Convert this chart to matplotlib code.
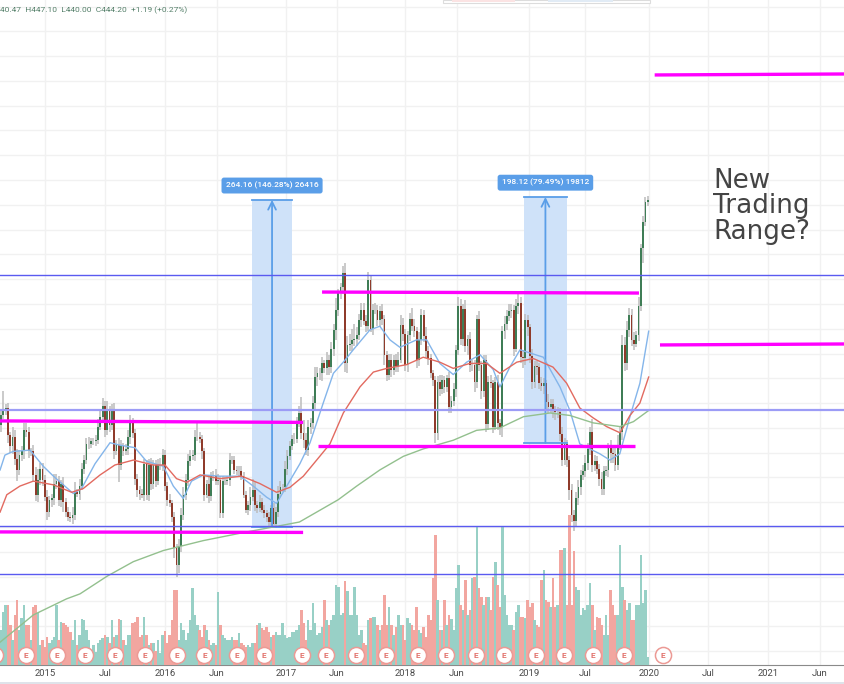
import numpy as np
import matplotlib
matplotlib.use('Agg')
import matplotlib.pyplot as plt
from matplotlib.patches import Rectangle

# weekly closes
close = [
    270,274,276,254,245,253,235,226,238,241,
    258,257,241,241,222,206,218,227,218,204,
    192,202,203,215,217,202,215,200,192,188,
    187,190,208,207,213,227,234,247,247,249,
    249,250,261,269,278,258,274,262,274,241,
    246,230,245,241,243,253,264,256,219,210,
    207,206,231,206,230,215,230,217,230,230,
    238,213,202,199,188,163,149,165,190,206,
    218,233,237,238,253,253,251,241,206,215,
    205,221,221,217,218,191,217,217,218,234,
    234,226,225,225,221,206,194,198,204,210,
    198,195,200,194,191,188,184,195,182,192,
    207,212,212,227,237,245,251,251,264,272,
    256,250,242,261,264,280,301,304,304,312,
    308,315,309,324,339,355,369,374,385,312,
    327,328,331,332,335,347,355,346,342,379,
    340,355,355,347,354,348,319,303,315,307,
    315,310,315,343,336,311,335,348,342,338,
    315,331,351,334,322,316,304,299,256,297,
    291,299,293,300,277,282,291,323,358,332,
    356,326,332,311,311,297,348,311,290,315,
    263,297,296,261,297,264,261,338,344,350,
    354,355,324,358,361,317,316,347,341,318,
    297,310,309,296,294,296,281,277,279,274,
    273,273,255,234,247,234,210,190,185,203,
    212,222,225,232,243,257,230,233,227,219,
    211,225,226,245,240,239,230,246,257,327,
    312,339,351,331,328,335,358,405,426,442,
    444]
first_open = 262

wick_up = [
    4,16,3,4,3,8,5,8,4,4,
    6,6,4,3,5,6,9,5,5,4,
    6,3,4,8,6,4,3,5,3,4,
    4,6,8,3,6,5,4,5,6,3,
    3,4,6,5,6,4,8,4,5,6,
    4,6,5,3,4,5,6,4,3,4,
    3,4,4,3,5,6,4,4,5,6,
    5,4,3,5,3,4,3,5,5,6,
    5,6,5,4,5,12,4,3,3,3,
    5,3,4,6,5,3,4,3,3,6,
    3,3,3,4,4,3,3,3,8,9,
    6,3,6,3,4,3,4,3,4,4,
    6,5,3,6,5,4,3,5,5,6,
    13,10,6,5,4,6,8,5,4,5,
    3,6,4,5,5,10,3,3,6,8,
    7,8,9,12,6,5,6,6,5,7,
    4,5,6,4,4,6,3,3,5,5,
    4,5,6,8,6,4,3,5,9,6,
    3,6,5,4,7,4,4,3,3,5,
    6,4,3,3,5,4,5,4,8,6,
    4,7,3,5,4,4,3,6,3,4,
    4,5,6,3,4,6,3,4,6,5,
    6,5,4,6,7,5,6,5,4,3,
    6,4,4,3,5,4,3,6,4,4,
    4,4,3,6,5,3,3,5,4,5,
    6,4,5,6,5,4,10,5,4,4,
    5,4,3,3,5,6,7,8,4,8,
    6,7,6,5,6,3,8,3,5,4,
    3]

wick_dn = [
    5,3,4,6,5,6,5,9,4,5,
    6,4,5,4,6,5,6,4,5,3,
    6,4,6,5,4,5,6,8,4,3,
    3,5,4,3,5,3,4,3,4,3,
    3,4,3,3,4,5,4,5,4,6,
    3,14,4,4,3,5,6,4,5,6,
    5,3,5,4,5,5,4,5,3,4,
    5,4,5,3,4,8,9,6,5,4,
    4,5,4,3,5,4,3,6,5,3,
    6,4,4,3,3,4,4,3,3,5,
    3,3,3,4,3,3,3,4,5,3,
    5,4,3,3,4,4,3,4,2,3,
    4,3,4,4,5,3,3,4,3,3,
    5,6,4,5,6,5,6,7,5,6,
    4,5,6,5,6,8,5,5,6,7,
    8,5,6,5,6,4,6,3,5,4,
    3,5,3,5,6,5,8,5,4,6,
    4,5,5,3,6,5,6,5,4,5,
    7,5,4,5,6,5,4,5,8,6,
    5,4,5,4,5,5,4,6,4,5,
    6,5,7,6,5,8,5,5,7,5,
    6,5,4,5,3,6,7,8,6,5,
    4,5,6,3,6,5,8,5,7,6,
    6,5,6,5,4,7,6,5,5,6,
    7,5,6,5,4,6,8,6,8,5,
    5,6,4,5,6,5,6,5,4,6,
    5,5,4,6,8,7,5,4,4,7,
    6,5,6,5,5,3,5,4,12,3,
    3]

# volume bars
volume = [
    35,53,60,60,40,25,50,65,35,47,
    60,40,40,25,58,60,52,20,25,18,
    28,22,25,28,60,25,43,42,40,38,
    33,25,45,20,30,46,45,35,25,15,
    20,13,22,25,27,30,28,22,45,28,
    30,46,45,25,20,30,30,42,43,48,
    28,30,48,30,20,22,22,14,25,12,
    30,34,22,30,45,75,75,25,42,35,
    25,32,45,77,50,40,35,28,40,35,
    25,20,22,20,73,40,30,27,25,25,
    28,25,25,32,22,20,18,20,18,22,
    22,40,42,37,35,38,33,28,30,33,
    30,30,42,30,27,28,33,33,35,40,
    55,42,25,45,35,62,42,30,32,38,
    65,45,40,45,50,80,78,50,52,84,
    74,50,50,78,50,30,35,22,20,45,
    47,48,48,40,35,40,70,40,58,40,
    30,38,50,40,40,25,47,42,40,35,
    58,35,32,38,28,50,45,87,130,65,
    35,35,65,40,50,46,35,77,100,60,
    55,85,50,55,87,88,138,77,68,60,
    68,68,55,88,103,80,58,138,70,50,
    40,40,35,53,60,48,48,47,65,58,
    62,45,40,38,85,95,65,63,58,87,
    58,60,115,115,117,60,150,60,114,78,
    75,50,57,55,60,82,60,35,48,47,
    40,30,50,30,75,60,50,50,120,78,
    65,55,62,45,45,60,60,110,62,75,
    8]

# moving averages: (bar, price)
ma_blue_x = [-0.4,1.7,5.3,12.6,18.3,22.7,31.3,34.9,40.7,47.2,51.5,58,63,70.3,74.6,78.9,82.5,87.6,94.8,103.5,109.2,115,119.3,123.7,129.4,133.8,139.5,143.9,148.2,152.5,159.7,164,168.4,172.7,179.9,184.3,190,195.8,201.6,207.4,213.1,216,220.3,224.7,234.8,242,246.3,250.6,255,259.3,263.6,267.9,272.3,276.6,280.4]
ma_blue_y = [226,238,241,242,229,221,207,211,231,248,246,244,233,229,213,203,217,222,221,221,213,204,199,213,231,248,280,304,313,323,339,342,331,325,331,331,312,303,313,319,307,293,309,323,317,293,274,247,243,239,234,239,269,296,338]
ma_red_x = [-0.4,2.5,8.2,14,22.7,30.6,35.6,42.9,49.3,57.3,65.9,71,76,80.4,86.2,94.8,104.2,112.1,119.3,125.1,130.9,138,142.4,148.2,155.4,161.2,167,175.6,182.8,190,195.8,203,210.2,216,223.3,230.4,239,244.9,250.6,256.4,262.2,268,272.3,276.6,280.4]
ma_red_y = [192,206,213,217,214,208,211,222,230,234,230,230,219,216,222,219,221,215,208,212,221,237,247,272,293,305,308,311,317,313,308,312,312,304,313,316,309,296,276,268,261,256,270,280,301]
ma_green_x = [-0.4,14,28.4,34.2,45.7,57.3,70.3,87.6,106.4,117.9,129.2,146,154,164,174.2,182.8,195.8,205.9,216,226.2,237.7,246.3,256.4,268,273.8,280.4]
ma_green_y = [87,109,122,126,140,152,161,169,176,180,184,202,213,226,237,243,250,258,260,269,272,270,264,261,265,274]

# annotations drawn on the chart
hlines_thin = [383, 180.4, 141.7]
hline_thick = 274.4
trend_x = [(-1, 130.8), (-1, 130.8), (139, 276.2), (137.2, 274.5), (283, 366), (285.3, 366)]
trend_y = [(265.6, 264.4), (176, 175.6), (369.6, 368.8), (245.4, 245.4), (544.8, 545.6), (326.9, 327.7)]
measure_1 = dict(x0=108.7, x1=126, y0=180, y1=444, label='264.16 (146.28%) 26416')
measure_2 = dict(x0=226.4, x1=245, y0=247.8, y1=446.3, label='198.12 (79.49%) 19812')
earnings_cut = -2.5
earnings = [10.8, 24.2, 36.4, 49.4, 62.3, 76.2, 88.1, 102, 114, 130.3, 140.7, 153.7, 166.7, 180.5, 192.6, 205.6, 217.7, 231.6, 243.7, 256.3, 269.7]
earnings_next = 286.6

tick_pos = [19, 45, 71, 93.5, 123.4, 145.5, 175, 197.4, 228.6, 252.8, 280.5, 306, 332, 354.5]
tick_lab = ['2015','Jul','2016','Jun','2017','Jun','2018','Jun','2019','Jul','2020','Jul','2021','Jun']

up_col = '#3f7d56'
dn_col = '#8f3b2b'
vol_up = '#98d0c6'
vol_dn = '#f2a6a0'
meas_col = '#5a9ee8'

close = np.array(close, dtype=float)
opens = np.r_[first_open, close[:-1]]
high = np.maximum(opens, close) + np.array(wick_up)
low = np.minimum(opens, close) - np.array(wick_dn)
bars = np.arange(len(close))
is_up = close >= opens

fig = plt.figure(figsize=(8.45, 6.84), dpi=100)
rect = [0, 19/684, 1, 665/684]
xlim = (-0.43, 365.4)
ylim = (68.6, 605.3)

# background pane: grid and time axis
bg = fig.add_axes(rect, zorder=0)
bg.set_xlim(xlim)
bg.set_ylim(ylim)
bg.set_yticks(np.arange(80, 601, 20))
bg.tick_params(axis='y', left=False, labelleft=False)
bg.set_xticks(tick_pos)
bg.set_xticklabels(tick_lab, fontsize=6.8, color='#4a4a4a', family='Roboto')
bg.tick_params(axis='x', length=0, pad=3)
bg.grid(True, color='#f1f1f1', lw=1)
for s in ['top', 'left', 'right']:
    bg.spines[s].set_visible(False)
bg.spines['bottom'].set_color('#8a8a8a')

# volume pane
vol_ax = fig.add_axes(rect, zorder=1)
vol_ax.set_xlim(xlim)
vol_ax.set_ylim(0, 665)
vol_ax.axis('off')
vol_ax.bar(bars, volume, width=1.12, color=[vol_up if u else vol_dn for u in is_up], lw=0)

# price pane
ax = fig.add_axes(rect, zorder=2)
ax.set_xlim(xlim)
ax.set_ylim(ylim)
ax.axis('off')

for m in (measure_1, measure_2):
    ax.add_patch(Rectangle((m['x0'], m['y0']), m['x1']-m['x0'], m['y1']-m['y0'], fc='#cfe2f9', ec='none', zorder=1))
    ax.plot([m['x0'], m['x1']], [m['y1'], m['y1']], color=meas_col, lw=1.3, zorder=4)
    ax.plot([m['x0'], m['x1']], [m['y0'], m['y0']], color=meas_col, lw=1.3, zorder=4)
    xc = (m['x0'] + m['x1']) / 2
    ax.annotate('', xy=(xc, m['y1']), xytext=(xc, m['y0']), zorder=4,
                arrowprops=dict(arrowstyle='->', color=meas_col, lw=1.3, mutation_scale=14, shrinkA=0, shrinkB=0))
    ax.text(xc, m['y1']+8.5, m['label'], color='white', fontsize=6, family='Roboto', weight='medium', ha='center', va='bottom', zorder=6,
            bbox=dict(boxstyle='round,pad=0.5,rounding_size=0.3', fc=meas_col, ec='none'))

ax.vlines(bars, low, high, color='#bcbcbc', lw=1.1, zorder=2)
ax.bar(bars, np.abs(close-opens), bottom=np.minimum(opens, close), width=0.78,
       color=[up_col if u else dn_col for u in is_up], lw=0, zorder=3)

ax.plot(ma_blue_x, ma_blue_y, color='#84b5ea', lw=1, zorder=4)
ax.plot(ma_red_x, ma_red_y, color='#e26a60', lw=1, zorder=4)
ax.plot(ma_green_x, ma_green_y, color='#93c08e', lw=1, zorder=4)

for p in hlines_thin:
    ax.axhline(p, color='#5a5af0', lw=1, zorder=5)
ax.axhline(hline_thick, color='#9c9cf6', lw=1.6, zorder=5)
for tx, ty in zip(trend_x, trend_y):
    ax.plot(tx, ty, color='#ff00ff', lw=2.4, solid_capstyle='butt', zorder=6)

# earnings markers sit at the foot of the volume pane
for e in [earnings_cut] + earnings + [earnings_next]:
    vol_ax.plot([e], [10], 'o', ms=11.6, mfc='white', mec='#ec9a95', mew=1.1, zorder=5)
for e in earnings + [earnings_next]:
    vol_ax.text(e, 10, 'E', fontsize=6, color='#e2736d', ha='center', va='center', family='Roboto', weight='bold', zorder=6)

ax.text(713/845, 1-168/665, 'New\nTrading\nRange?', transform=ax.transAxes, fontsize=18.8, color='#444444',
        ha='left', va='top', linespacing=0.97, zorder=7)
ax.text(0, 1-10/665, '40.47  H447.10  L440.00  C444.20  +1.19 (+0.27%)', transform=ax.transAxes, fontsize=6,
        color='#55806a', family='Roboto', ha='left', va='center', zorder=7)

# sliver of the drawing toolbar along the top edge and the window edge below
fig.add_artist(Rectangle((443/845, 1-2.5/684), 207/845, 2.5/684, transform=fig.transFigure, fc='white', ec='#dcdcdc', lw=0.8))
fig.add_artist(Rectangle((452/845, 1-1.5/684), 63/845, 1.5/684, transform=fig.transFigure, fc='#fbe3e3', ec='none'))
fig.add_artist(Rectangle((548/845, 1-1.5/684), 65/845, 1.5/684, transform=fig.transFigure, fc='#e1ebf5', ec='none'))
fig.add_artist(Rectangle((0, 0), 1, 2/684, transform=fig.transFigure, fc='#dfe3ea', ec='none'))

fig.savefig('out.png', dpi=100)
